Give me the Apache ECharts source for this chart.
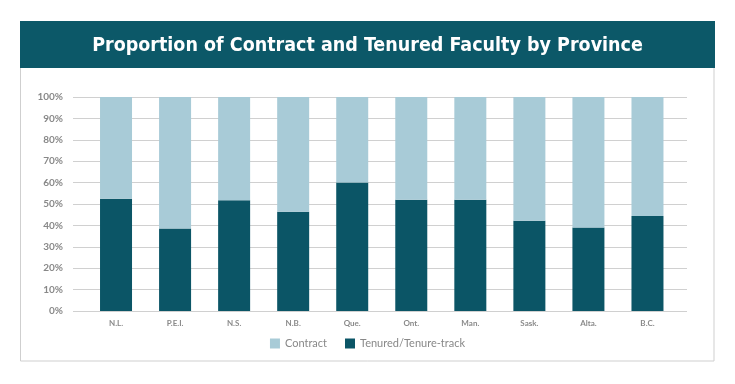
<!DOCTYPE html>
<html><head><meta charset="utf-8">
<script src="https://cdn.jsdelivr.net/npm/echarts@6/dist/echarts.min.js"></script>
<style>html,body{margin:0;padding:0;background:#fff}#c{width:735px;height:384px}</style>
</head><body><div id="c"></div>
<script>
const categories = ['N.L.','P.E.I.','N.S.','N.B.','Que.','Ont.','Man.','Sask.','Alta.','B.C.'];
const tenured = [52.5, 38.5, 51.8, 46.4, 60, 52, 52, 42.2, 39, 44.4];
const contract = [47.5, 61.5, 48.2, 53.6, 40, 48, 48, 57.8, 61, 55.6];
const yTicks = [0,10,20,30,40,50,60,70,80,90,100];

const chart = echarts.init(document.getElementById('c'));
const DARK = '#0b5566', LIGHT = '#a8cbd7', BAR = '#0c5868';
chart.setOption({
  animation:false,
  title:{text:'Proportion of Contract and Tenured Faculty by Province', left:'center', top:31,
    textStyle:{color:'#fff', fontSize:19.5, fontWeight:'bold', fontFamily:'DejaVu Sans Condensed'}},
  graphic:[
    {type:'rect', shape:{x:20.5,y:21.5,width:693.5,height:339.5}, style:{fill:'#fff',stroke:'#cfcfcf',lineWidth:1}, z:-10},
    {type:'rect', shape:{x:20,y:21,width:695,height:47}, style:{fill:BAR}, z:-5}
  ],
  legend:{bottom:30, left:'center', itemWidth:10, itemHeight:10, itemGap:18, icon:'rect',
    textStyle:{color:'#888', fontSize:11, fontFamily:'Lato'},
    data:['Contract','Tenured/Tenure-track']},
  grid:[
    {left:73, right:48, top:97, bottom:73, containLabel:false},
    {left:86.5, right:58, top:97, bottom:73, containLabel:false}
  ],
  xAxis:[
    {gridIndex:0, type:'category', data:categories, show:false},
    {gridIndex:1, type:'category', data:categories, axisTick:{show:false}, axisLine:{show:false},
     axisLabel:{color:'#8a8a8a', fontSize:8, fontWeight:'bold', fontFamily:'Lato', margin:8}}
  ],
  yAxis:[
    {gridIndex:0, type:'value', min:0, max:100, interval:10,
     axisLabel:{formatter:v=>yTicks.includes(v)?v+'%':'', color:'#888', fontSize:10, fontWeight:'bold', fontFamily:'Lato', margin:10},
     splitLine:{lineStyle:{color:'#d0d0d0', width:1}},
     axisLine:{show:false}, axisTick:{show:false}},
    {gridIndex:1, type:'value', min:0, max:100, interval:10, show:false, splitLine:{show:false}}
  ],
  series:[
    {name:'Tenured/Tenure-track', type:'bar', stack:'a', xAxisIndex:1, yAxisIndex:1, data:tenured, barWidth:32, itemStyle:{color:DARK}},
    {name:'Contract', type:'bar', stack:'a', xAxisIndex:1, yAxisIndex:1, data:contract, barWidth:32, itemStyle:{color:LIGHT}}
  ]
});
</script></body></html>
